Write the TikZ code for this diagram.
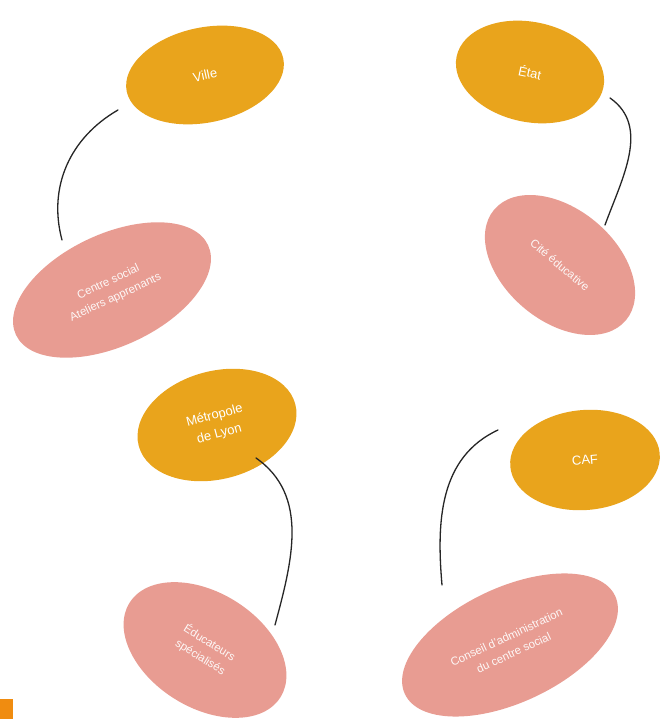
\documentclass[tikz,border=0pt]{standalone}
\usepackage{fontspec}
\setmainfont{Liberation Sans}
\usetikzlibrary{shapes.geometric}
\definecolor{blobor}{HTML}{E9A41C}
\definecolor{blobpk}{HTML}{E89C92}
\definecolor{cornor}{HTML}{F08C10}
\tikzset{
  orblob/.style={ellipse, fill=blobor, draw=none, text=white, inner sep=0pt, align=center, font=\fontsize{13}{19}\selectfont},
  pkblob/.style={ellipse, fill=blobpk, draw=none, text=white!92!blobpk, inner sep=0pt, align=center, font=\fontsize{11.5}{17}\selectfont},
  link/.style={draw=black!85, line width=1.3pt, line cap=round}
}
\begin{document}
\begin{tikzpicture}[x=1pt,y=1pt]
\useasboundingbox (0,0) rectangle (667,719);
\fill[white] (0,0) rectangle (667,719);
% orange blobs
\node[orblob, minimum width=160, minimum height=95, rotate=12] (ville) at (205,644) {Ville};
\node[orblob, minimum width=150, minimum height=100, rotate=-12] (etat) at (530,647) {État};
\node[orblob, minimum width=162, minimum height=108, rotate=15] (metro) at (217,294) {Métropole\\de Lyon};
\node[orblob, minimum width=150, minimum height=100, rotate=5] (caf) at (585,259) {CAF};
% pink blobs
\node[pkblob, minimum width=212, minimum height=112, rotate=25] (centre) at (112,429) {Centre social\\Ateliers apprenants};
\node[pkblob, minimum width=172, minimum height=112, rotate=-40] (cite) at (560,454) {Cité éducative};
\node[pkblob, minimum width=178, minimum height=115, rotate=-32] (educ) at (205,69) {Éducateurs\\spécialisés};
\node[pkblob, minimum width=232, minimum height=115, rotate=25] (conseil) at (510,74) {Conseil d'administration\\du centre social};
% connector ends
\coordinate (v1) at (118,609);
\coordinate (v2) at (62,479);
\coordinate (e1) at (610,621);
\coordinate (e2) at (605,494);
\coordinate (m1) at (256,261);
\coordinate (m2) at (275,94);
\coordinate (c1) at (498,289);
\coordinate (c2) at (442,134);
\draw[link] (v1) to[out=210, in=105] (v2);
\draw[link] (e1) to[out=-35, in=70] (e2);
\draw[link] (m1) to[out=-35, in=75] (m2);
\draw[link] (c1) to[out=205, in=95] (c2);
% corner mark
\fill[cornor] (0,0) rectangle (13,20);
\end{tikzpicture}
\end{document}
